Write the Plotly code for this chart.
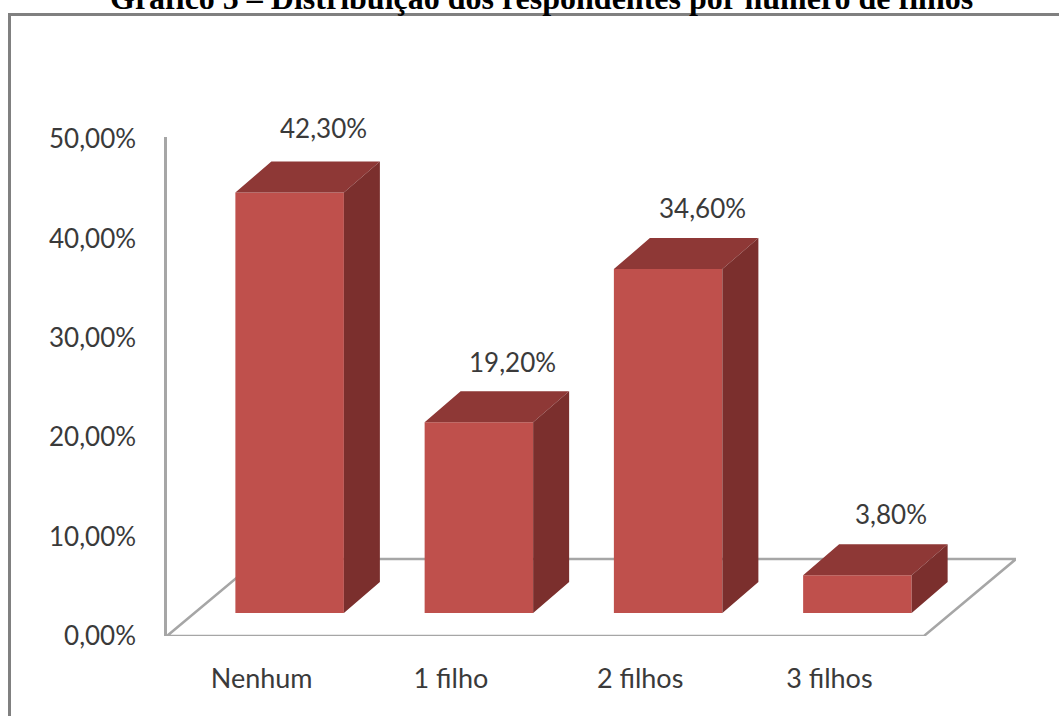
import plotly.graph_objects as go

# Data
categories = ["Nenhum", "1 filho", "2 filhos", "3 filhos"]
values = [42.3, 19.2, 34.6, 3.8]
value_labels = ["42,30%", "19,20%", "34,60%", "3,80%"]
y_ticks = [0, 10, 20, 30, 40, 50]
y_tick_labels = ["0,00%", "10,00%", "20,00%", "30,00%", "40,00%", "50,00%"]
title_text = "Gráfico 5 – Distribuição dos respondentes por número de filhos"

# Styles
W, H = 1059, 716
FRONT, TOP, SIDE = "#BF504C", "#8E3836", "#7B2F2D"
GREY = "#A6A6A6"
TEXT = "#3A3A3A"
FONT = "Lato"

# Pseudo-3D geometry, in axis units
px_x = 189.25   # pixels per category
px_y = 9.94     # pixels per percentage point
bar_w = 108.5 / px_x
bar_dx = 28 / px_x
base = 23 / px_y
depth_x = 36 / px_x
depth_y = 31 / px_y
floor_dx = 92 / px_x
floor_dy = 77 / px_y
label_dx = 34 / px_x
label_shift_px = [65, 60, 61, 61]

xs = list(range(len(categories)))
top_x, top_y, side_x, side_y = [], [], [], []
for c, v in zip(xs, values):
    l = c + bar_dx - bar_w / 2
    r = c + bar_dx + bar_w / 2
    t = base + v
    top_x += [l, r, r + depth_x, l + depth_x, l, None]
    top_y += [t, t, t + depth_y, t + depth_y, t, None]
    side_x += [r, r + depth_x, r + depth_x, r, r, None]
    side_y += [base, base + depth_y, t + depth_y, t, base, None]

fig = go.Figure()
fig.add_trace(go.Bar(
    x=[c + bar_dx for c in xs], y=values, base=base, width=bar_w,
    marker=dict(color=FRONT, line=dict(width=0)), hoverinfo="skip",
))
fig.add_trace(go.Scatter(x=top_x, y=top_y, mode="lines", fill="toself", fillcolor=TOP,
                         line=dict(width=0, color=TOP), hoverinfo="skip"))
fig.add_trace(go.Scatter(x=side_x, y=side_y, mode="lines", fill="toself", fillcolor=SIDE,
                         line=dict(width=0, color=SIDE), hoverinfo="skip"))

for c, v, lab, sh in zip(xs, values, value_labels, label_shift_px):
    fig.add_annotation(x=c + bar_dx + label_dx, y=base + v, xref="x", yref="y", text=lab,
                       showarrow=False, xanchor="center", yanchor="middle", yshift=sh,
                       font=dict(family=FONT, size=26, color=TEXT))

fig.add_annotation(x=541 / W, y=1, xref="paper", yref="paper", text=f"<b>{title_text}</b>",
                   showarrow=False, xanchor="center", yanchor="bottom", yshift=-18,
                   font=dict(family="Liberation Serif", size=32, color="black"))

x0, x1 = -0.5, len(categories) - 0.5
fig.add_shape(type="path", xref="x", yref="y", layer="below",
              path=f"M {x0} 0 L {x1} 0 L {x1 + floor_dx} {floor_dy} L {x0 + floor_dx} {floor_dy} Z",
              line=dict(color=GREY, width=2.5), fillcolor="white")
# outer frame, open to the right and bottom page edges
fig.add_shape(type="rect", xref="paper", yref="paper", layer="below",
              x0=9.5 / W, x1=1.02, y0=-0.02, y1=1 - 14.5 / H,
              line=dict(color="#808080", width=3))

fig.update_layout(
    width=W, height=H, margin=dict(l=0, r=0, t=0, b=0, autoexpand=False),
    paper_bgcolor="white", plot_bgcolor="rgba(0,0,0,0)",
    showlegend=False,
    xaxis=dict(domain=[167 / W, 1016 / W], range=[x0, x1 + floor_dx],
               tickmode="array", tickvals=xs, ticktext=categories,
               showgrid=False, zeroline=False, showline=False, ticks="", ticklabelstandoff=24,
               tickfont=dict(family=FONT, size=27, color=TEXT)),
    yaxis=dict(domain=[(H - 636) / H, (H - 137) / H], range=[0, 499 / px_y],
               tickmode="array", tickvals=y_ticks, ticktext=y_tick_labels,
               showgrid=False, zeroline=False, showline=True, linecolor=GREY, linewidth=2.5,
               ticks="", ticklabelstandoff=23,
               tickfont=dict(family=FONT, size=26, color=TEXT)),
)

fig.write_html("out.html", config=dict(displayModeBar=False),
               post_script="document.body.style.margin='0';document.body.style.overflow='hidden';")
